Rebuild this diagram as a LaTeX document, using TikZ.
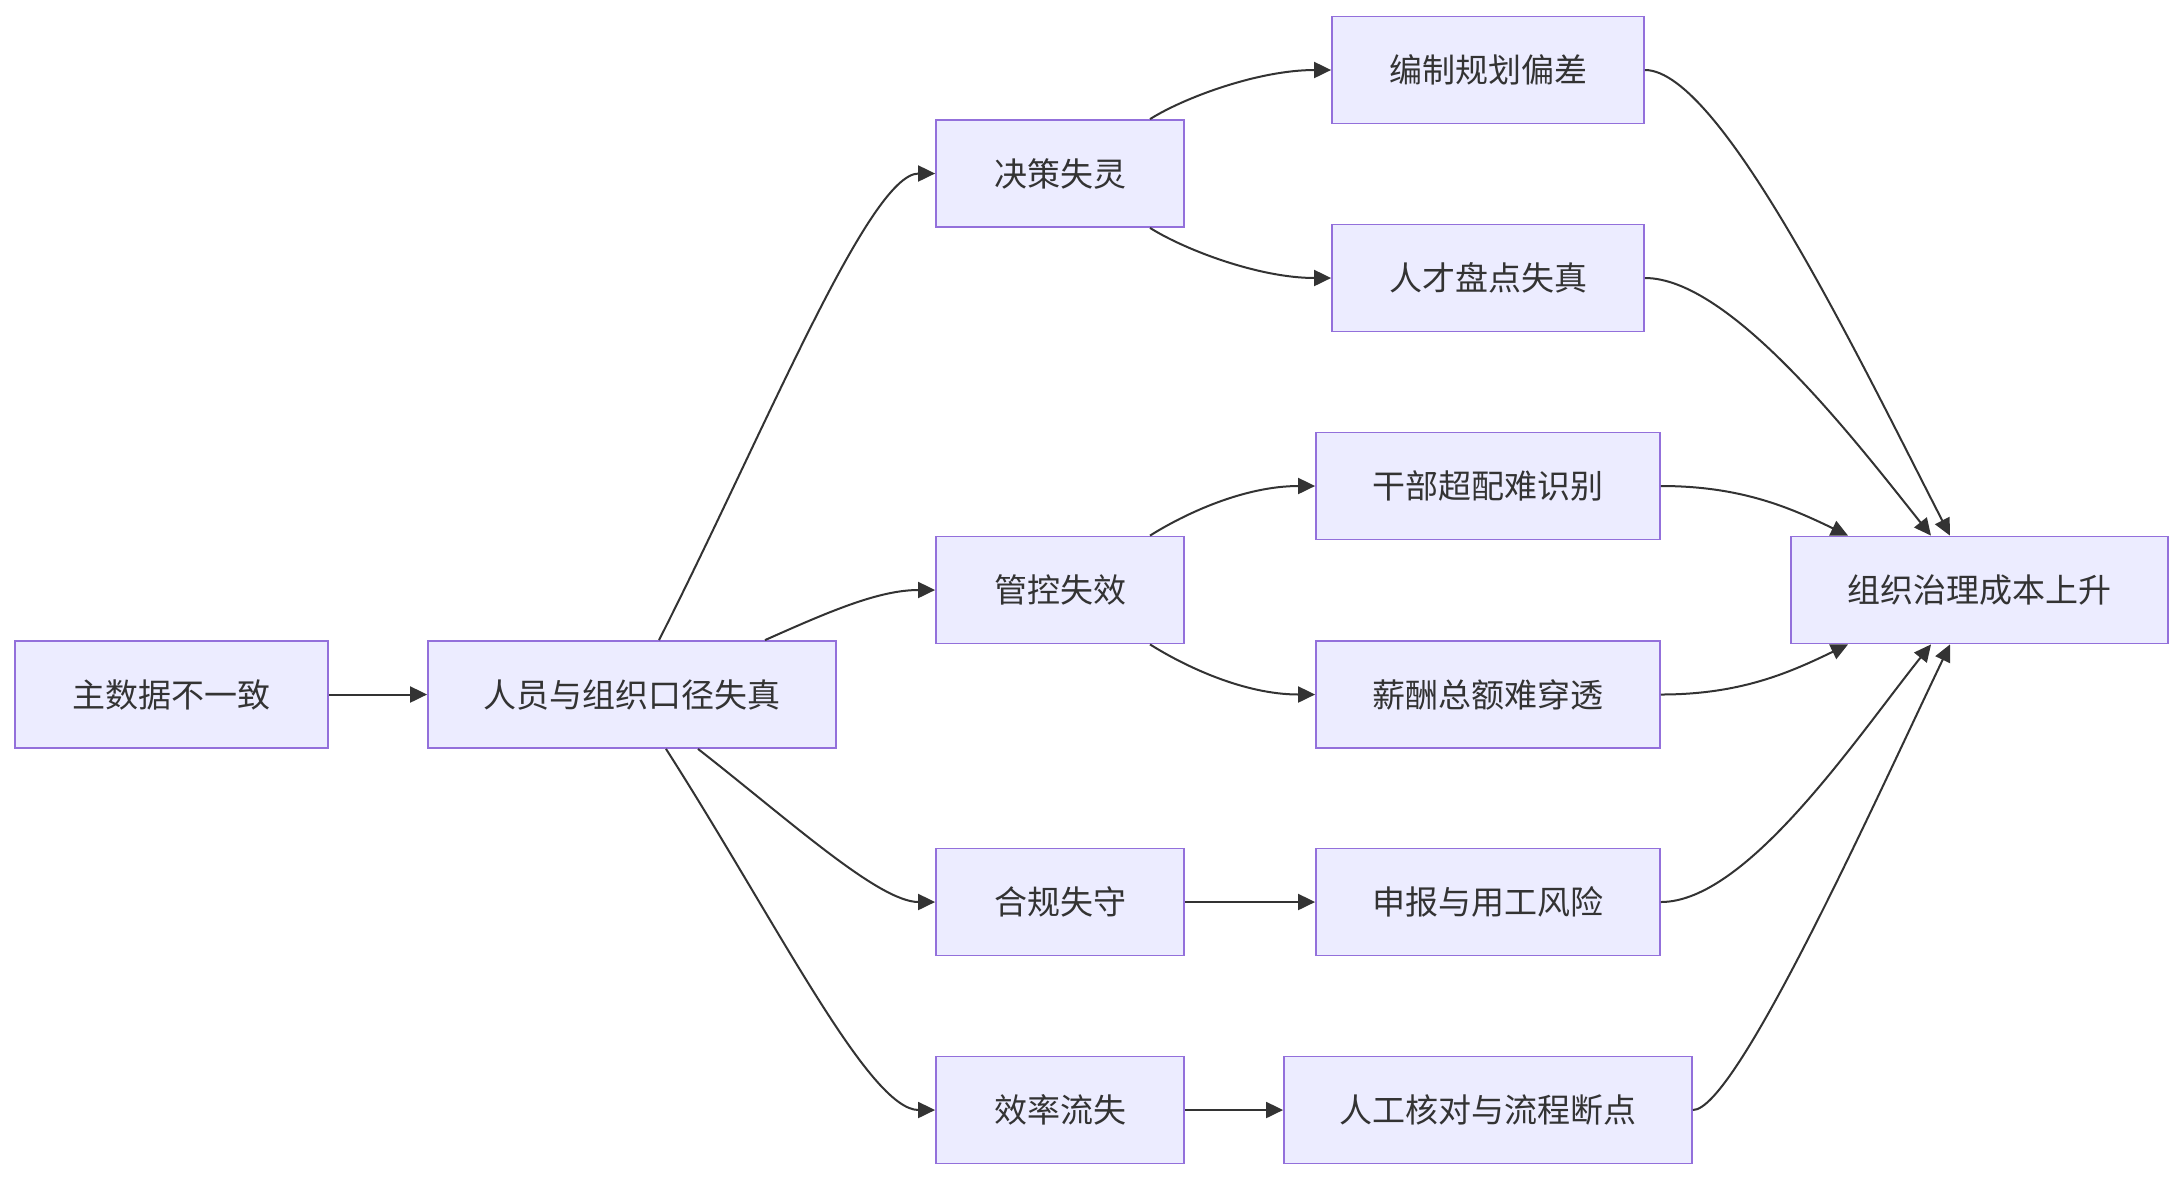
\documentclass[tikz,border=0pt]{standalone}
\usepackage{fontspec}
\newfontfamily\cjk{Noto Sans CJK SC}
\usetikzlibrary{arrows.meta}
\definecolor{boxfill}{HTML}{ECECFF}
\definecolor{boxborder}{HTML}{9370DB}
\definecolor{inkc}{HTML}{333333}
\tikzset{
  box/.style={draw=boxborder, fill=boxfill, line width=0.9pt, text=inkc,
    font=\cjk\fontsize{16.5}{20}\selectfont, minimum height=53.5pt, inner sep=0pt},
  arr/.style={draw=inkc, line width=1pt, -{Triangle[length=8.5pt,width=8pt]}}
}
\begin{document}
\begin{tikzpicture}[x=0.5pt,y=-0.5pt]
\useasboundingbox (0,0) rectangle (2184,1180);
\node[box, minimum width=156.5pt] (A) at (171.5,694.5) {主数据不一致};
\node[box, minimum width=204pt] (B) at (632,694.5) {人员与组织口径失真};
\node[box, minimum width=124pt] (C) at (1060,173.5) {决策失灵};
\node[box, minimum width=124pt] (D) at (1060,590) {管控失效};
\node[box, minimum width=124pt] (E) at (1060,902) {合规失守};
\node[box, minimum width=124pt] (F) at (1060,1110) {效率流失};
\node[box, minimum width=156pt] (G) at (1488,70) {编制规划偏差};
\node[box, minimum width=156pt] (H) at (1488,278) {人才盘点失真};
\node[box, minimum width=172pt] (I) at (1488,486) {干部超配难识别};
\node[box, minimum width=172pt] (J) at (1488,694.5) {薪酬总额难穿透};
\node[box, minimum width=172pt] (K) at (1488,902) {申报与用工风险};
\node[box, minimum width=204pt] (L) at (1488,1110) {人工核对与流程断点};
\node[box, minimum width=188.5pt] (M) at (1979.5,590) {组织治理成本上升};

\draw[arr] (A) -- (B);
\draw[arr] ([xshift=13.5pt]B.north) .. controls +(105,-207) and +(-66,0) .. (C.west);
\draw[arr] ([xshift=66.5pt]B.north) .. controls +(65,-29) and +(-56,0) .. (D.west);
\draw[arr] ([xshift=33pt]B.south) .. controls +(92,72) and +(-56,0) .. (E.west);
\draw[arr] ([xshift=17pt]B.south) .. controls +(110,172) and +(-66,0) .. (F.west);
\draw[arr] ([xshift=45pt]C.north) .. controls +(35,-22) and +(-72,0) .. (G.west);
\draw[arr] ([xshift=45pt]C.south) .. controls +(35,22) and +(-72,0) .. (H.west);
\draw[arr] ([xshift=45pt]D.north) .. controls +(35,-22) and +(-71,0) .. (I.west);
\draw[arr] ([xshift=45pt]D.south) .. controls +(35,22) and +(-71,0) .. (J.west);
\draw[arr] (E) -- (K);
\draw[arr] (F) -- (L);
\draw[arr] (G.east) .. controls +(76,0) and +(-90,-175) .. ([xshift=-14.75pt]M.north);
\draw[arr] (H.east) .. controls +(86,0) and +(-75,-94) .. ([xshift=-24.25pt]M.north);
\draw[arr] (I.east) .. controls +(80,0) and +(-58,-28) .. ([xshift=-65.75pt]M.north);
\draw[arr] (J.east) .. controls +(80,0) and +(-58,28) .. ([xshift=-65.75pt]M.south);
\draw[arr] (K.east) .. controls +(86,0) and +(-75,94) .. ([xshift=-24.25pt]M.south);
\draw[arr] (L.east) .. controls +(43,0) and +(-77,161) .. ([xshift=-14.75pt]M.south);
\end{tikzpicture}
\end{document}
